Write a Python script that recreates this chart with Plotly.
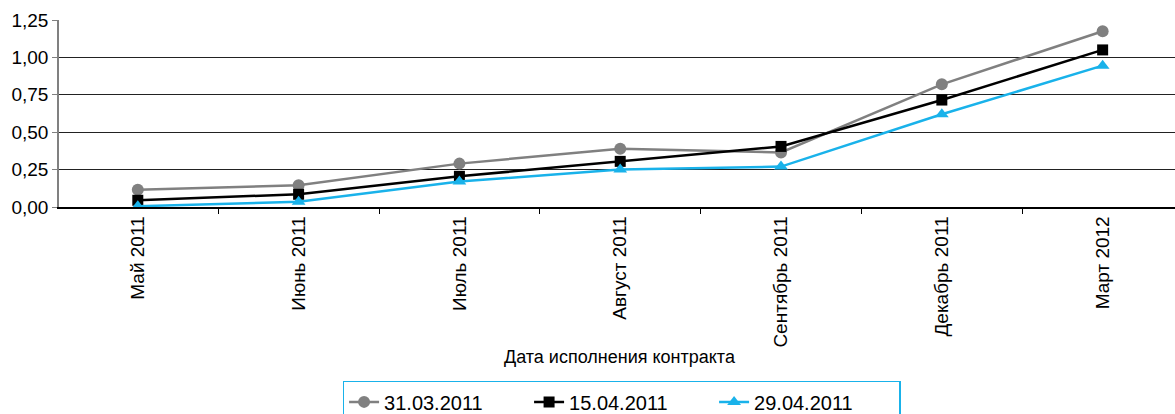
import plotly.graph_objects as go

categories = ["Май 2011", "Июнь 2011", "Июль 2011", "Август 2011",
              "Сентябрь 2011", "Декабрь 2011", "Март 2012"]
series_names = ["31.03.2011", "15.04.2011", "29.04.2011"]
s_3103 = [0.115, 0.145, 0.29, 0.39, 0.365, 0.82, 1.175]
s_1504 = [0.045, 0.085, 0.205, 0.305, 0.405, 0.715, 1.05]
s_2904 = [0.005, 0.035, 0.17, 0.25, 0.27, 0.62, 0.945]
y_ticks = [0, 0.25, 0.5, 0.75, 1.0, 1.25]
x_title = "Дата исполнения контракта"

colors = ["#808080", "#000000", "#19b2ea"]
symbols = ["circle", "square", "triangle-up"]
FONT = "Liberation Sans, Arial, Helvetica, sans-serif"

fig = go.Figure()
for name, vals, col, sym in zip(series_names, [s_3103, s_1504, s_2904], colors, symbols):
    fig.add_trace(go.Scatter(
        x=categories, y=vals, name=name, mode="lines+markers",
        line=dict(color=col, width=2.5),
        marker=dict(color=col, symbol=sym, size=12 if sym != "square" else 11),
    ))

fig.update_layout(
    width=1175, height=414,
    margin=dict(l=59, r=0, t=20, b=207, autoexpand=False),
    paper_bgcolor="white", plot_bgcolor="white",
    separators=", ",
    font=dict(family=FONT, color="black", size=19),
    showlegend=True,
    legend=dict(
        orientation="h", xref="container", yref="container",
        x=0.529, xanchor="center", y=0.08, yanchor="top",
        bordercolor="#19b2ea", borderwidth=1.5, bgcolor="white",
        font=dict(family=FONT, size=20, color="black"),
        itemwidth=30, entrywidth=140, entrywidthmode="pixels",
    ),
    annotations=[dict(
        text=x_title, xref="paper", yref="paper", x=0.503, y=-0.80,
        xanchor="center", yanchor="middle", showarrow=False,
        font=dict(family=FONT, size=18, color="black"),
    )],
)

fig.update_xaxes(
    type="category", range=[-0.49, 6.45], automargin=False,
    showline=True, linecolor="black", linewidth=1.5,
    showgrid=False, zeroline=False,
    ticks="outside", tickson="boundaries", ticklen=5, tickcolor="black",
    tickangle=-90, tickfont=dict(family=FONT, size=19, color="black"),
)
fig.update_yaxes(
    range=[0, 1.25], tickvals=y_ticks, tickformat=".2f", automargin=False,
    showline=True, linecolor="#808080", linewidth=1.5,
    showgrid=True, gridcolor="#222222", gridwidth=1,
    zeroline=False,
    ticks="outside", ticklen=5, tickcolor="#808080",
    tickfont=dict(family=FONT, size=19, color="black"),
)

fig.write_html("out.html", config={"displayModeBar": False},
               post_script="document.body.style.margin='0';document.body.style.overflow='hidden';")
